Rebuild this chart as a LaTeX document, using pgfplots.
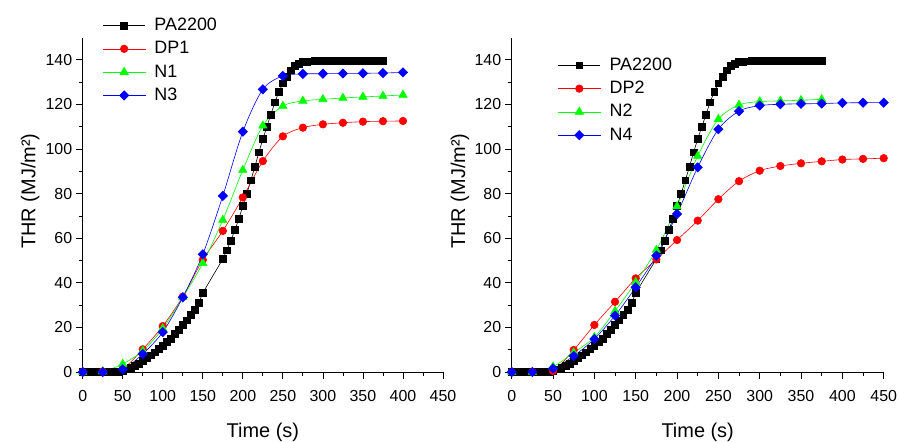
\documentclass[border=0pt]{standalone}
\usepackage{pgfplots}
\pgfplotsset{compat=1.18}
\usepackage{fontspec}
\setmainfont{Liberation Sans}
\pgfplotsset{
 legend image code/.code={\draw[mark repeat=2,mark phase=2,#1] plot coordinates {(0bp,0bp) (21bp,0bp) (42bp,0bp)};},
 myaxis/.style={
  scale only axis, height=334.4bp,
  xmin=0, xmax=450, ymin=0, ymax=150,
  axis x line=bottom, axis y line=left, axis line style={-, line width=1pt},
  xtick={0,50,...,450}, ytick={0,20,...,140},
  minor x tick num=1, minor y tick num=1,
  tick align=outside, major tick length=7bp, minor tick length=4bp,
  every tick/.style={black, line width=0.8pt},
  tick label style={font=\fontsize{16}{18}\selectfont},
  xticklabel style={yshift=-8bp},
  /pgf/number format/assume math mode=true,
  label style={font=\fontsize{20}{24}\selectfont},
  xlabel={Time (s)}, ylabel={THR (MJ/m²)},
  xlabel style={at={(axis description cs:0.5,-0.179)}, anchor=center},
  clip=false,
  legend style={draw=none, fill=none, inner sep=0pt, outer sep=0pt, font=\fontsize{18}{20}\selectfont, row sep=7.3bp, column sep=9bp, nodes={inner sep=0pt, text height=13bp, text depth=3bp}, anchor=north west},
  legend cell align=left,
 },
 sPA/.style={color=black, mark=square*, mark size=3.4, line width=0.6pt},
 sDP/.style={color=red, mark=*, mark size=3.8, line width=0.6pt, smooth},
 sN/.style={color=green, mark=triangle*, mark size=4.8, line width=0.6pt, smooth},
 sNB/.style={color=blue, mark=square*, mark options={rotate=45}, mark size=3.3, line width=0.6pt, smooth},
}
\pgfplotstableread{
t v
0 0
5 0
10 0
15 0
20 0
25 0
30 0
35 0
40 0
45 0.2
50 0.5
55 1.2
60 2
65 2.9
70 3.8
75 5
80 6.3
85 7.5
90 8.8
95 10.3
100 11.8
105 13.4
110 15
115 17
120 19
125 21
130 23.2
135 25.5
140 28
145 31
150 35.5
175 50.7
180 54.6
185 58.9
190 63.7
195 68.6
200 74.6
205 80
210 86
215 92
220 98.5
225 104.5
230 110
235 115.5
240 121
245 125.7
250 129.5
255 132.5
260 135.3
265 137.2
270 138.3
275 139
280 139.3
285 139.4
290 139.5
295 139.5
300 139.6
305 139.6
310 139.6
315 139.6
320 139.6
325 139.6
330 139.7
335 139.7
340 139.7
345 139.7
350 139.7
355 139.7
360 139.7
365 139.7
370 139.7
375 139.7
}\tPA
\begin{document}
\begin{tikzpicture}
\begin{axis}[myaxis, width=360.3bp,
  ylabel style={at={(axis description cs:-0.146,0.541)}, anchor=center},
  legend style={at={(axis description cs:0.056,1.06)}}]
\addplot[sPA] table {\tPA};
\addlegendentry{PA2200}
\addplot[sDP] coordinates {(0,0) (25,0.2) (50,1.5) (75,10.2) (100,20.6) (125,33.8) (150,50.3) (175,63.3) (200,78.3) (225,94.6) (250,105.7) (275,109.6) (300,111.1) (325,111.8) (350,112.3) (375,112.5) (400,112.6)};
\addlegendentry{DP1}
\addplot[sN] coordinates {(0,0) (25,0.3) (50,3.6) (75,9.5) (100,19.5) (125,33.5) (150,48.8) (175,68.2) (200,90.6) (225,110.5) (250,119.3) (275,121.6) (300,122.3) (325,122.9) (350,123.4) (375,123.8) (400,124.3)};
\addlegendentry{N1}
\addplot[sNB] coordinates {(0,0) (25,0) (50,1.2) (75,8.1) (100,17.9) (125,33.5) (150,52.8) (175,79) (200,107.8) (225,126.8) (250,132.8) (275,133.7) (300,133.8) (325,133.9) (350,134) (375,134.1) (400,134.4)};
\addlegendentry{N3}
\end{axis}
\begin{axis}[myaxis, width=372bp, at={(429bp,0bp)},
  ylabel style={at={(axis description cs:-0.139,0.541)}, anchor=center},
  legend style={at={(axis description cs:0.1245,0.941)}}]
\addplot[sPA] table {\tPA};
\addlegendentry{PA2200}
\addplot[sDP] coordinates {(0,0) (25,0) (50,0.5) (75,9.9) (100,21.1) (125,31.5) (150,42) (175,50.5) (200,59.2) (225,67.9) (250,77.5) (275,85.6) (300,90.3) (325,92.4) (350,93.6) (375,94.5) (400,95.3) (425,95.6) (450,95.9)};
\addlegendentry{DP2}
\addplot[sN] coordinates {(0,0) (25,0) (50,2.4) (75,8.7) (100,15.6) (125,27.3) (150,40.3) (175,54.7) (200,74.3) (225,96.9) (250,113.4) (275,119.8) (300,121.3) (325,121.6) (350,121.9) (375,122.3)};
\addlegendentry{N2}
\addplot[sNB] coordinates {(0,0) (25,0) (50,1.6) (75,7.2) (100,14.8) (125,25.3) (150,38) (175,52.2) (200,70.9) (225,91.8) (250,108.9) (275,117) (300,119.5) (325,120.1) (350,120.3) (375,120.4) (400,120.7) (425,120.8) (450,120.8)};
\addlegendentry{N4}
\end{axis}
\pgfresetboundingbox
\useasboundingbox (-82.7bp,-71bp) rectangle (816.3bp,372bp);
\end{tikzpicture}
\end{document}
